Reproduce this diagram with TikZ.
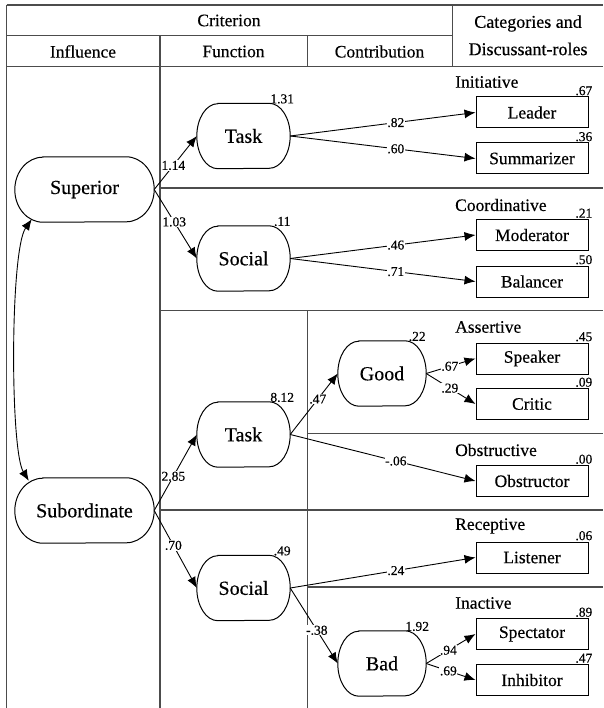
\documentclass[tikz,border=0pt]{standalone}
\usepackage{fontspec}
\setmainfont{Liberation Serif}[FakeBold=0.35]
\usetikzlibrary{arrows.meta}
\begin{document}
\begin{tikzpicture}[x=1pt,y=-1pt,
  grid/.style={line width=1.2pt, black!70},
  oval/.style={minimum width=93pt, minimum height=65pt, inner sep=0pt, font=\fontsize{20}{24}\selectfont},
  bigoval/.style={oval, minimum width=139pt},
  midoval/.style={oval, minimum width=88pt},
  outline/.style={line width=1pt},
  rolebox/.style={draw, line width=1pt, minimum width=112pt, minimum height=31pt, inner sep=0pt, font=\fontsize{17.5}{20}\selectfont},
  hdr/.style={inner sep=0pt, font=\fontsize{17.5}{20}\selectfont},
  cat/.style={anchor=west, inner sep=0pt, font=\fontsize{17.5}{20}\selectfont},
  lbl/.style={fill=white, inner sep=0.6pt, font=\fontsize{13.5}{15}\selectfont},
  varl/.style={anchor=base, inner sep=0pt, font=\fontsize{13.5}{15}\selectfont},
  resl/.style={anchor=south east, inner sep=0pt, font=\fontsize{13.5}{15}\selectfont},
  arr/.style={-{Latex[length=11pt,width=9pt]}, line width=0.9pt},
  darr/.style={{Latex[length=11pt,width=9pt]}-{Latex[length=11pt,width=9pt]}, line width=0.9pt}
]
\useasboundingbox (0,0) rectangle (603,708);
% table grid
\draw[grid] (6.5,5) -- (603,5);
\draw[grid] (6.5,35.5) -- (452.5,35.5);
\draw[grid] (6.5,66.5) -- (603,66.5);
\draw[grid] (6.5,5) -- (6.5,708);
\draw[grid] (160,35.5) -- (160,708);
\draw[grid] (307.5,35.5) -- (307.5,66.5);
\draw[grid] (452.5,5) -- (452.5,66.5);
\draw[grid] (160,188) -- (603,188);
\draw[grid] (160,310.5) -- (603,310.5);
\draw[grid] (307.5,310.5) -- (307.5,708);
\draw[grid] (307.5,433.5) -- (603,433.5);
\draw[grid] (160,510) -- (603,510);
\draw[grid] (307.5,587) -- (603,587);
% headers
\node[hdr] (hcrit) at (229,20.5) {Criterion};
\node[hdr] (hinfl) at (83,51.5) {Influence};
\node[hdr] (hfunc) at (233.5,51.5) {Function};
\node[hdr] (hcont) at (379.5,51.5) {Contribution};
\node[hdr, font=\fontsize{18}{20}\selectfont] (hcat1) at (528,23.5) {Categories and};
\node[hdr, font=\fontsize{18}{20}\selectfont] (hcat2) at (528,49) {Discussant-roles};
% category labels
\node[cat] (c1) at (455,82) {Initiative};
\node[cat] (c2) at (455,205) {Coordinative};
\node[cat] (c3) at (455,327) {Assertive};
\node[cat] (c4) at (455,450) {Obstructive};
\node[cat] (c5) at (455,526) {Receptive};
\node[cat] (c6) at (455,603) {Inactive};
% latent nodes
\node[bigoval] (sup) at (84.5,189.5) {Superior};
\node[bigoval] (sub) at (84.5,510.5) {Subordinate};
\node[oval] (taskA) at (243.5,136) {Task};
\node[oval] (socA) at (243.5,258.5) {Social};
\node[oval] (taskB) at (243.5,434.5) {Task};
\node[oval] (socB) at (243.5,588) {Social};
\node[midoval] (good) at (382,373.5) {Good};
\node[midoval] (bad) at (382,663.5) {Bad};
% elliptic-capped outlines of the latent nodes
\foreach \n/\rx in {sup/28,sub/28,taskA/21,socA/21,taskB/21,socB/21,good/21,bad/21}{
  \draw[outline] ([xshift=\rx pt]\n.north west) -- ([xshift=-\rx pt]\n.north east)
    arc[start angle=90,end angle=-90,x radius=\rx pt,y radius=32.5pt]
    -- ([xshift=\rx pt]\n.south west)
    arc[start angle=270,end angle=90,x radius=\rx pt,y radius=32.5pt] -- cycle;
}
% role boxes
\node[rolebox] (leader) at (532,112.5) {Leader};
\node[rolebox] (summ) at (532,158.5) {Summarizer};
\node[rolebox] (moder) at (532,235) {Moderator};
\node[rolebox] (balan) at (532,281.5) {Balancer};
\node[rolebox] (speak) at (532,358.5) {Speaker};
\node[rolebox] (critic) at (532,404) {Critic};
\node[rolebox] (obstr) at (532,481) {Obstructor};
\node[rolebox] (listen) at (532,557.5) {Listener};
\node[rolebox] (spect) at (532,634) {Spectator};
\node[rolebox] (inhib) at (532,680) {Inhibitor};
% variance labels
\node[varl] (v1) at ([xshift=-8pt]taskA.north east) {1.31};
\node[varl] (v2) at ([xshift=-8pt]socA.north east) {.11};
\node[varl] (v3) at ([xshift=-8pt]taskB.north east) {8.12};
\node[varl] (v4) at ([xshift=-8pt]socB.north east) {.49};
\node[varl] (v5) at ([xshift=-9pt]good.north east) {.22};
\node[varl] (v6) at ([xshift=-9pt]bad.north east) {1.92};
% residual labels
\node[resl] (r1) at ([xshift=4pt,yshift=1pt]leader.north east) {.67};
\node[resl] (r2) at ([xshift=4pt,yshift=1pt]summ.north east) {.36};
\node[resl] (r3) at ([xshift=4pt,yshift=1pt]moder.north east) {.21};
\node[resl] (r4) at ([xshift=4pt,yshift=1pt]balan.north east) {.50};
\node[resl] (r5) at ([xshift=4pt,yshift=1pt]speak.north east) {.45};
\node[resl] (r6) at ([xshift=4pt,yshift=1pt]critic.north east) {.09};
\node[resl] (r7) at ([xshift=4pt,yshift=1pt]obstr.north east) {.00};
\node[resl] (r8) at ([xshift=4pt,yshift=1pt]listen.north east) {.06};
\node[resl] (r9) at ([xshift=4pt,yshift=1pt]spect.north east) {.89};
\node[resl] (r10) at ([xshift=4pt,yshift=1pt]inhib.north east) {.47};
% paths
\draw[arr] (sup.east) -- node[lbl,pos=.45] (e1) {1.14} (taskA.west);
\draw[arr] (sup.east) -- node[lbl,pos=.47] (e2) {1.03} (socA.west);
\draw[arr] (taskA.east) -- node[lbl,pos=.57] (e3) {.82} (leader.west);
\draw[arr] (taskA.east) -- node[lbl,pos=.57] (e4) {.60} (summ.west);
\draw[arr] (socA.east) -- node[lbl,pos=.57] (e5) {.46} (moder.west);
\draw[arr] (socA.east) -- node[lbl,pos=.57] (e6) {.71} (balan.west);
\draw[arr] (sub.east) -- node[lbl,pos=.45] (e7) {2.85} (taskB.west);
\draw[arr] (sub.east) -- node[lbl,pos=.45] (e8) {.70} (socB.west);
\draw[arr] (taskB.east) -- node[lbl,pos=.58] (e9) {.47} (good.west);
\draw[arr] (taskB.east) -- node[lbl,pos=.57] (e10) {-.06} (obstr.west);
\draw[arr] (good.east) -- node[lbl,pos=.48] (e11) {.67} (speak.west);
\draw[arr] (good.east) -- node[lbl,pos=.48] (e12) {.29} (critic.west);
\draw[arr] (socB.east) -- node[lbl,pos=.57] (e13) {.24} (listen.west);
\draw[arr] (socB.east) -- node[lbl,pos=.56] (e14) {-.38} (bad.west);
\draw[arr] (bad.east) -- node[lbl,pos=.45] (e15) {.94} (spect.west);
\draw[arr] (bad.east) -- node[lbl,pos=.45] (e16) {.69} (inhib.west);
% covariance
\draw[darr] ([xshift=17pt,yshift=3pt]sup.south west) .. controls (10,250) and (10,450) .. ([xshift=14pt,yshift=-3pt]sub.north west);
\end{tikzpicture}
\end{document}
